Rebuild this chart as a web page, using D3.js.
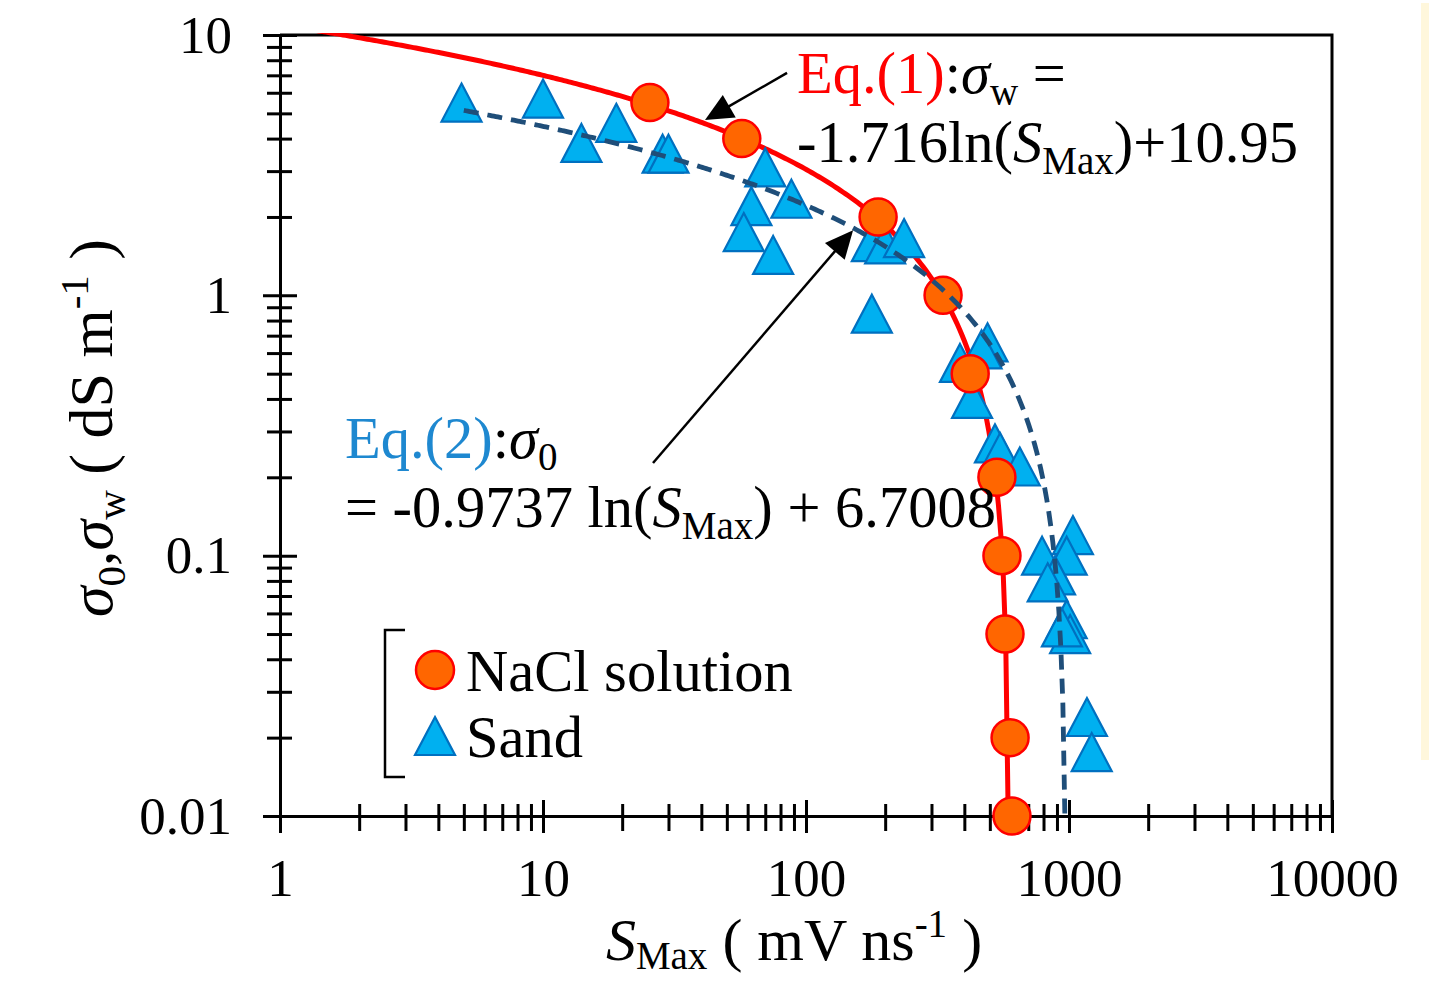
<!DOCTYPE html>
<html><head><meta charset="utf-8">
<script src="https://cdn.jsdelivr.net/npm/d3@7"></script>
<style>
body{margin:0;background:#fff;}
text{font-family:"Liberation Serif","Times New Roman",serif;fill:#000;}
</style>
</head><body>
<svg id="c" width="1429" height="981"></svg>
<script>
// ---------------- data ----------------
const xTickLabels = ["1", "10", "100", "1000", "10000"];
const yTickLabels = ["0.01", "0.1", "1", "10"];

// NaCl solution: S_Max (mV/ns) vs sigma_w (dS/m)
const naclS     = [25.5, 57, 188, 332, 421, 532, 556, 571, 597, 607];
const naclSigma = [5.5, 4.0, 2.0, 1.0, 0.5, 0.2, 0.1, 0.05, 0.02, 0.01];

// Sand: S_Max (mV/ns) vs sigma_0 (dS/m)
const sandS     = [4.9, 10, 19, 14, 28.5, 30, 70, 88, 62, 58, 75, 178, 200, 236, 178,
                   490, 465, 385, 428, 523, 547, 650, 1035, 790, 980, 885, 830, 980, 1010, 940, 1170, 1220];
const sandSigma = [5.5, 5.7, 4.6, 3.85, 3.5, 3.5, 3.1, 2.35, 2.2, 1.75, 1.43, 1.6, 1.57, 1.66, 0.85,
                   0.66, 0.62, 0.55, 0.40, 0.27, 0.25, 0.22, 0.12, 0.10, 0.10, 0.084, 0.079, 0.057, 0.05, 0.053, 0.024, 0.0176];

// trendline coefficients printed on the chart: sigma = a*ln(S) + b
const eq1Coef = [-1.716, 10.95];
const eq2Coef = [-0.9737, 6.7008];
const eq2StartS = 5;

// ---------------- layout ----------------
const svg = d3.select("#c");
const L = 280, R = 1332, T = 35, B = 816;
const x = d3.scaleLog().domain([1, 10000]).range([L, R]);
const y = d3.scaleLog().domain([0.01, 10]).range([B, T]);
const isDecade = d => Math.abs(Math.log10(d) - Math.round(Math.log10(d))) < 1e-9;

svg.append("rect").attr("x", 1421).attr("y", 3).attr("width", 8).attr("height", 757).attr("fill", "#FFF7DC");

const defs = svg.append("defs");
defs.append("clipPath").attr("id", "plot").append("rect")
  .attr("x", L).attr("y", T - 2).attr("width", R - L).attr("height", B - T + 2);

// ---------------- axes ----------------
const xTicks = [];
for (let e = 0; e < 4; e++) for (let m = 1; m < 10; m++) xTicks.push(m * Math.pow(10, e));
xTicks.push(10000);
const yTicks = [];
for (let e = -2; e < 1; e++) for (let m = 1; m < 10; m++) yTicks.push(+(m * Math.pow(10, e)).toPrecision(6));
yTicks.push(10);

const gx = svg.append("g").attr("transform", `translate(0,${B})`)
  .call(d3.axisBottom(x).tickValues(xTicks).tickSizeOuter(0)
    .tickFormat(d => isDecade(d) ? xTickLabels[Math.round(Math.log10(d))] : ""));
gx.select(".domain").attr("stroke", "#000").attr("stroke-width", 3);
gx.selectAll(".tick line").attr("stroke", "#000").attr("stroke-width", 3)
  .attr("y1", d => isDecade(d) ? -16 : -12).attr("y2", d => isDecade(d) ? 17 : 15);
gx.selectAll(".tick text").attr("y", 80).attr("dy", 0)
  .attr("font-size", 53).attr("fill", "#000").style("font-family", '"Liberation Serif",serif');

const gy = svg.append("g").attr("transform", `translate(${L},0)`)
  .call(d3.axisLeft(y).tickValues(yTicks).tickSizeOuter(0)
    .tickFormat(d => isDecade(d) ? yTickLabels[Math.round(Math.log10(d)) + 2] : ""));
gy.select(".domain").attr("stroke", "#000").attr("stroke-width", 3);
gy.selectAll(".tick line").attr("stroke", "#000").attr("stroke-width", 3)
  .attr("x1", d => isDecade(d) ? -17 : -13).attr("x2", d => isDecade(d) ? 17 : 12);
gy.selectAll(".tick text").attr("x", -48).attr("dy", 17)
  .attr("font-size", 53).attr("fill", "#000").style("font-family", '"Liberation Serif",serif');

// top and right frame
svg.append("path").attr("d", `M${L},${T}H${R}V${B}`).attr("fill", "none")
  .attr("stroke", "#000").attr("stroke-width", 3);

// ---------------- curves ----------------
const eq = (c, s) => c[0] * Math.log(s) + c[1];
const endS = c => Math.exp((0.01 - c[1]) / c[0]);
function curvePts(c, s0) {
  const s1 = endS(c), n = 300, pts = [];
  for (let i = 0; i <= n; i++) {
    const s = Math.exp(Math.log(s0) + (Math.log(s1) - Math.log(s0)) * i / n);
    pts.push([s, Math.max(eq(c, s), 0.01)]);
  }
  return pts;
}
const line = d3.line().x(d => x(d[0])).y(d => y(d[1]));
const plot = svg.append("g").attr("clip-path", "url(#plot)");

// sand triangles
const triW = 40, triH = 38;
const triPath = `M0,${-triH / 2}L${triW / 2},${triH / 2}L${-triW / 2},${triH / 2}Z`;
const sand = sandS.map((s, i) => [s, sandSigma[i]]);
svg.append("g").selectAll("path").data(sand).join("path")
  .attr("d", triPath)
  .attr("transform", d => `translate(${x(d[0])},${y(d[1])})`)
  .attr("fill", "#00B0F0").attr("stroke", "#0070C0").attr("stroke-width", 2.2);

// Eq.(1) red line
plot.append("path").datum(curvePts(eq1Coef, 1)).attr("d", line)
  .attr("fill", "none").attr("stroke", "#FF0000").attr("stroke-width", 5);

// NaCl circles
const nacl = naclS.map((s, i) => [s, naclSigma[i]]);
svg.append("g").selectAll("circle").data(nacl).join("circle")
  .attr("cx", d => x(d[0])).attr("cy", d => y(d[1])).attr("r", 18.5)
  .attr("fill", "#FF6600").attr("stroke", "#FF0000").attr("stroke-width", 2.5);

// Eq.(2) dashed line
svg.append("path").datum(curvePts(eq2Coef, eq2StartS)).attr("d", line)
  .attr("fill", "none").attr("stroke", "#1F4E79").attr("stroke-width", 4.8)
  .attr("stroke-dasharray", "15,9");

// ---------------- annotations ----------------
function arrow(tail, tip) {
  const x0 = x(tail[0]), y0 = y(tail[1]), x1 = x(tip[0]), y1 = y(tip[1]);
  const dx = x1 - x0, dy = y1 - y0, len = Math.hypot(dx, dy), ux = dx / len, uy = dy / len;
  const hl = 28, hw = 13;
  const bx = x1 - ux * hl, by = y1 - uy * hl;
  svg.append("line").attr("x1", x0).attr("y1", y0).attr("x2", bx + ux * 2).attr("y2", by + uy * 2)
    .attr("stroke", "#000").attr("stroke-width", 2.5);
  svg.append("path")
    .attr("d", `M${x1},${y1}L${bx - uy * hw},${by + ux * hw}L${bx + uy * hw},${by - ux * hw}Z`)
    .attr("fill", "#000");
}
arrow([84.7, 7.15], [41.3, 4.71]);
arrow([26.2, 0.227], [151, 1.78]);

const FS = 58.5, SUB = 39;
function rich(xp, yp, parts, anchor, fs, sub) {
  fs = fs || FS; sub = sub || SUB;
  const t = svg.append("text").attr("x", xp).attr("y", yp).attr("font-size", fs)
    .attr("text-anchor", anchor || "start");
  parts.forEach(p => {
    const ts = t.append("tspan").text(p.t);
    if (p.fill) ts.attr("fill", p.fill);
    if (p.it) ts.attr("font-style", "italic");
    if (p.sub) ts.attr("font-size", sub);
    if (p.dy) ts.attr("dy", p.dy);
  });
  return t;
}
rich(797, 93, [{t: "Eq.(1)", fill: "#FF0000"}, {t: ":"}, {t: "σ", it: 1},
  {t: "w", sub: 1, dy: 12}, {t: " =", dy: -12}]);
rich(797, 162, [{t: "-1.716ln("}, {t: "S", it: 1}, {t: "Max", sub: 1, dy: 12}, {t: ")+10.95", dy: -12}]);
rich(345, 458, [{t: "Eq.(2)", fill: "#1E88D0"}, {t: ":"}, {t: "σ", it: 1}, {t: "0", sub: 1, dy: 12}]);
rich(345, 527, [{t: "= -0.9737 ln("}, {t: "S", it: 1}, {t: "Max", sub: 1, dy: 12}, {t: ") + 6.7008", dy: -12}]);

// axis titles
rich(794, 960, [{t: "S", it: 1}, {t: "Max", sub: 1, dy: 9}, {t: " ( mV ns", dy: -9},
  {t: "-1", sub: 1, dy: -23}, {t: " )", dy: 23}], "middle", 60, 39);
const yt = rich(0, 0, [{t: "σ", it: 1}, {t: "0", sub: 1, dy: 13}, {t: ",", dy: -13}, {t: "σ", it: 1},
  {t: "w", sub: 1, dy: 13}, {t: " ( dS m", dy: -13}, {t: "-1", sub: 1, dy: -24}, {t: " )", dy: 24}], "middle", 62, 41);
yt.attr("transform", "translate(112,428) rotate(-90)");

// ---------------- legend ----------------
const lg = svg.append("g");
lg.append("path").attr("d", "M405,630H385V777H405").attr("fill", "none").attr("stroke", "#000").attr("stroke-width", 2.5);
lg.append("circle").attr("cx", 435).attr("cy", 670).attr("r", 19)
  .attr("fill", "#FF6600").attr("stroke", "#FF0000").attr("stroke-width", 2.5);
lg.append("path").attr("d", triPath).attr("transform", "translate(435,736)")
  .attr("fill", "#00B0F0").attr("stroke", "#0070C0").attr("stroke-width", 2.2);
lg.append("text").attr("x", 466).attr("y", 691).attr("font-size", FS).text("NaCl solution");
lg.append("text").attr("x", 466).attr("y", 757).attr("font-size", FS).text("Sand");
</script>
</body></html>
